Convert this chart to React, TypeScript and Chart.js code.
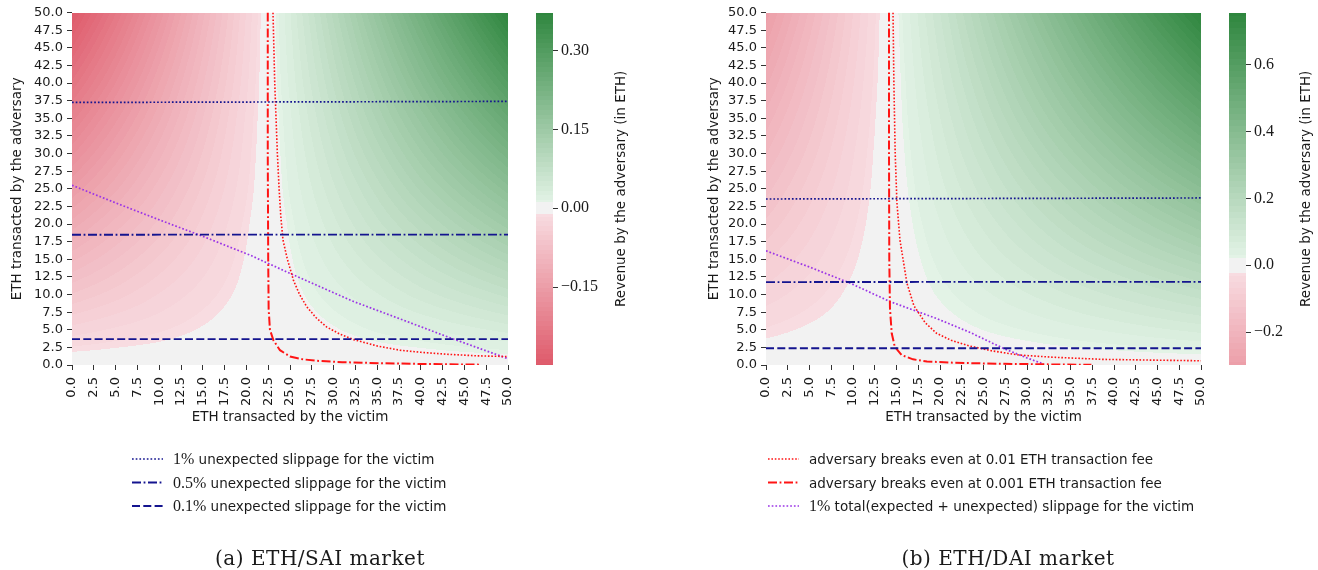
import React, { useEffect, useRef } from "react";
import { Chart, registerables } from "chart.js";

Chart.register(...registerables);

// ---------- data ----------
const AXIS_TICKS = [0, 2.5, 5, 7.5, 10, 12.5, 15, 17.5, 20, 22.5, 25, 27.5, 30, 32.5, 35, 37.5, 40, 42.5, 45, 47.5, 50];

// heatmap sample grid (victim ETH along columns, adversary ETH along rows)
const VICTIM_GRID = [0, 5, 10, 15, 20, 25, 30, 35, 40, 45, 50];
const ADVERSARY_GRID = [0, 5, 10, 15, 20, 25, 30, 35, 40, 45, 50];

// revenue by the adversary (ETH), ETH/SAI market, rows = adversary 0..50
const REVENUE_SAI = [
  [0, 0, 0, 0, 0, 0, 0, 0, 0, 0, 0],
  [-0.030, -0.023, -0.017, -0.010, -0.003, 0.003, 0.010, 0.017, 0.023, 0.030, 0.037],
  [-0.060, -0.047, -0.033, -0.020, -0.007, 0.007, 0.020, 0.033, 0.047, 0.060, 0.073],
  [-0.090, -0.070, -0.050, -0.030, -0.010, 0.010, 0.030, 0.050, 0.070, 0.090, 0.110],
  [-0.120, -0.093, -0.067, -0.040, -0.013, 0.013, 0.040, 0.067, 0.093, 0.120, 0.147],
  [-0.150, -0.117, -0.083, -0.050, -0.017, 0.017, 0.050, 0.083, 0.117, 0.150, 0.183],
  [-0.180, -0.140, -0.100, -0.060, -0.020, 0.020, 0.060, 0.100, 0.140, 0.180, 0.220],
  [-0.209, -0.163, -0.117, -0.070, -0.023, 0.023, 0.070, 0.117, 0.163, 0.210, 0.257],
  [-0.239, -0.187, -0.133, -0.080, -0.027, 0.027, 0.080, 0.133, 0.187, 0.240, 0.295],
  [-0.268, -0.210, -0.150, -0.090, -0.030, 0.030, 0.090, 0.150, 0.210, 0.271, 0.333],
  [-0.298, -0.233, -0.167, -0.100, -0.033, 0.033, 0.100, 0.167, 0.234, 0.302, 0.372],
];

// revenue by the adversary (ETH), ETH/DAI market
const REVENUE_DAI = [
  [0, 0, 0, 0, 0, 0, 0, 0, 0, 0, 0],
  [-0.030, -0.019, -0.009, 0.002, 0.012, 0.023, 0.033, 0.044, 0.054, 0.065, 0.075],
  [-0.060, -0.039, -0.017, 0.004, 0.025, 0.046, 0.067, 0.088, 0.109, 0.130, 0.151],
  [-0.089, -0.058, -0.026, 0.005, 0.037, 0.069, 0.100, 0.132, 0.163, 0.195, 0.226],
  [-0.119, -0.077, -0.035, 0.007, 0.049, 0.091, 0.133, 0.176, 0.218, 0.260, 0.302],
  [-0.149, -0.096, -0.044, 0.009, 0.062, 0.114, 0.167, 0.219, 0.272, 0.325, 0.377],
  [-0.179, -0.116, -0.052, 0.011, 0.074, 0.137, 0.200, 0.263, 0.326, 0.390, 0.453],
  [-0.208, -0.135, -0.061, 0.013, 0.086, 0.160, 0.234, 0.307, 0.381, 0.455, 0.528],
  [-0.238, -0.154, -0.070, 0.014, 0.099, 0.183, 0.267, 0.351, 0.435, 0.520, 0.604],
  [-0.268, -0.173, -0.079, 0.016, 0.111, 0.206, 0.300, 0.395, 0.490, 0.584, 0.679],
  [-0.298, -0.193, -0.087, 0.018, 0.123, 0.228, 0.334, 0.439, 0.544, 0.649, 0.755],
];

const SAI_CB_RANGE = [-0.298, 0.372];
const DAI_CB_RANGE = [-0.298, 0.755];
const SAI_CB_TICKS = [-0.15, 0, 0.15, 0.3];
const DAI_CB_TICKS = [-0.2, 0, 0.2, 0.4, 0.6];

// curves: [victim ETH, adversary ETH]
const SAI_SLIP_1PCT = [[0, 37.25], [50, 37.4]];
const SAI_SLIP_05PCT = [[0, 18.48], [50, 18.5]];
const SAI_SLIP_01PCT = [[0, 3.68], [50, 3.68]];
const SAI_FEE_001 = [
  [23.05, 50], [23.15, 45], [23.25, 40], [23.4, 35], [23.55, 30], [23.75, 25], [23.95, 21],
  [24.2, 17.7], [24.7, 15], [25.4, 12.0], [26.1, 10], [26.9, 8.3], [28.0, 6.7], [29.2, 5.4],
  [30.7, 4.4], [32.3, 3.6], [35, 2.7], [37.6, 2.1], [40, 1.8], [43.3, 1.5], [46.5, 1.3], [50, 1.2],
];
const SAI_FEE_0001 = [
  [22.45, 50], [22.45, 30], [22.5, 15], [22.55, 8], [22.7, 5], [23.1, 3.5], [23.85, 2.1],
  [25, 1.2], [26.5, 0.8], [28.1, 0.6], [31, 0.4], [35.7, 0.24], [40, 0.15], [46.8, 0.05],
];
const SAI_TOTAL_1PCT = [
  [0, 25.5], [5, 23.0], [10, 20.6], [14.7, 18.4], [20.4, 15.6], [25, 13.0], [32.3, 9.0],
  [37.5, 6.6], [43.7, 3.7], [50, 0.9],
];

const DAI_SLIP_1PCT = [[0, 23.55], [50, 23.7]];
const DAI_SLIP_05PCT = [[0, 11.77], [50, 11.8]];
const DAI_SLIP_01PCT = [[0, 2.38], [50, 2.38]];
const DAI_FEE_001 = [
  [14.6, 50], [14.7, 40], [14.85, 30], [15.05, 23], [15.4, 17.7], [16.2, 11.6], [17.0, 8.4],
  [18.3, 6], [19.6, 4.5], [21.3, 3.5], [23.4, 2.7], [26, 2], [29.2, 1.4], [33, 1.1],
  [38.7, 0.8], [44, 0.7], [50, 0.6],
];
const DAI_FEE_0001 = [
  [14.14, 50], [14.14, 30], [14.17, 15], [14.25, 8], [14.45, 4.5], [14.8, 2.6], [15.6, 1.4],
  [16.9, 0.8], [18.5, 0.5], [21.5, 0.33], [25, 0.22], [29.2, 0.14], [33, 0.08], [37.4, 0.03],
];
const DAI_TOTAL_1PCT = [
  [0, 16.2], [5, 13.9], [9.7, 11.6], [14.25, 9.0], [19.6, 6.6], [23.5, 4.6], [27.3, 2.35],
  [30, 1.0], [31.9, 0.15],
];

const LINE_LABELS = [
  "1% unexpected slippage for the victim",
  "0.5% unexpected slippage for the victim",
  "0.1% unexpected slippage for the victim",
  "adversary breaks even at 0.01 ETH transaction fee",
  "adversary breaks even at 0.001 ETH transaction fee",
  "1% total(expected + unexpected) slippage for the victim",
];

const X_TITLE = "ETH transacted by the victim";
const Y_TITLE = "ETH transacted by the adversary";
const CB_TITLE = "Revenue by the adversary (in ETH)";
const CAPTIONS = ["(a) ETH/SAI market", "(b) ETH/DAI market"];

// ---------- styles ----------
const SANS = "'DejaVu Sans', sans-serif";
const SERIF = "'Liberation Serif', 'DejaVu Serif', serif";
const TEXT = "#1a1a1a";
const TICK_COLOR = "#333333";
const DARK_BLUE = "#14148f";
const RED = "#ff1414";
const VIOLET = "#9b34e6";

const GRAY = [242, 242, 242];
const NEG_LIGHT = [248, 220, 225];
const NEG_FULL = [216, 56, 75];
const POS_LIGHT = [227, 243, 230];
const POS_FULL = [46, 134, 62];
const CENTER_BAND = 0.03;
const CMAP_LEVELS = 40;

function cmap(t: number): number[] {
  const at = Math.abs(t);
  if (at <= CENTER_BAND) return GRAY;
  let u = Math.min(1, (at - CENTER_BAND) / (1 - CENTER_BAND));
  u = Math.round(u * CMAP_LEVELS) / CMAP_LEVELS;
  const l = t < 0 ? NEG_LIGHT : POS_LIGHT;
  const f = t < 0 ? NEG_FULL : POS_FULL;
  return [l[0] + (f[0] - l[0]) * u, l[1] + (f[1] - l[1]) * u, l[2] + (f[2] - l[2]) * u];
}

function locate(arr: number[], v: number): [number, number] {
  if (v <= arr[0]) return [0, 0];
  const n = arr.length;
  if (v >= arr[n - 1]) return [n - 2, 1];
  for (let i = 0; i < n - 1; i++) {
    if (v >= arr[i] && v <= arr[i + 1]) return [i, (v - arr[i]) / (arr[i + 1] - arr[i])];
  }
  return [n - 2, 1];
}

function sampleGrid(grid: number[][], cols: number[], rows: number[], x: number, y: number) {
  const [i, fx] = locate(cols, x);
  const [j, fy] = locate(rows, y);
  const g00 = grid[j][i], g10 = grid[j][i + 1], g01 = grid[j + 1][i], g11 = grid[j + 1][i + 1];
  return (1 - fx) * (1 - fy) * g00 + fx * (1 - fy) * g10 + (1 - fx) * fy * g01 + fx * fy * g11;
}

const heatmapPlugin = {
  id: "heatmap",
  beforeDatasetsDraw(chart: any, _args: any, opts: any) {
    const { ctx, chartArea: ca } = chart;
    const xs = chart.scales.x, ys = chart.scales.y;
    const left = Math.round(ca.left), top = Math.round(ca.top);
    const w = Math.round(ca.right) - left, h = Math.round(ca.bottom) - top;
    const off = document.createElement("canvas");
    off.width = w;
    off.height = h;
    const octx = off.getContext("2d") as CanvasRenderingContext2D;
    const img = octx.createImageData(w, h);
    for (let py = 0; py < h; py++) {
      const a = ys.getValueForPixel(top + py + 0.5);
      for (let px = 0; px < w; px++) {
        const v = xs.getValueForPixel(left + px + 0.5);
        const val = sampleGrid(opts.grid, VICTIM_GRID, ADVERSARY_GRID, v, a);
        const c = cmap(val / opts.vrange);
        const k = (py * w + px) * 4;
        img.data[k] = c[0];
        img.data[k + 1] = c[1];
        img.data[k + 2] = c[2];
        img.data[k + 3] = 255;
      }
    }
    octx.putImageData(img, 0, 0);
    ctx.drawImage(off, left, top);
  },
};

const colorbarPlugin = {
  id: "colorbar",
  beforeDatasetsDraw(chart: any, _args: any, opts: any) {
    const cb = chart.scales.cb;
    const { ctx } = chart;
    const x0 = Math.round(cb.left) - opts.barWidth;
    for (let py = Math.round(cb.top); py < Math.round(cb.bottom); py++) {
      const val = cb.getValueForPixel(py + 0.5);
      const c = cmap(val / opts.vrange);
      ctx.fillStyle = `rgb(${Math.round(c[0])},${Math.round(c[1])},${Math.round(c[2])})`;
      ctx.fillRect(x0, py, opts.barWidth, 1);
    }
  },
  afterDraw(chart: any, _args: any, opts: any) {
    const cb = chart.scales.cb;
    const { ctx } = chart;
    ctx.save();
    ctx.translate(opts.titleX, (cb.top + cb.bottom) / 2);
    ctx.rotate(-Math.PI / 2);
    ctx.font = `13.5px ${SANS}`;
    ctx.fillStyle = TEXT;
    ctx.textAlign = "center";
    ctx.textBaseline = "middle";
    ctx.fillText(opts.title, 0, 0);
    ctx.restore();
  },
};

const lineLegendPlugin = {
  id: "lineLegend",
  afterDraw(chart: any, _args: any, opts: any) {
    const { ctx } = chart;
    opts.items.forEach((dsIndex: number, row: number) => {
      const ds = chart.data.datasets[dsIndex];
      const y = opts.top + row * opts.rowGap;
      ctx.save();
      ctx.strokeStyle = ds.borderColor;
      ctx.lineWidth = ds.borderWidth;
      ctx.setLineDash(ds.borderDash || []);
      ctx.beginPath();
      ctx.moveTo(opts.x, y);
      ctx.lineTo(opts.x + opts.sampleWidth, y);
      ctx.stroke();
      ctx.setLineDash([]);
      ctx.fillStyle = TEXT;
      ctx.textBaseline = "alphabetic";
      ctx.textAlign = "left";
      let tx = opts.x + opts.textOffset;
      const base = y + 5;
      const m = /^([\d.]+%)(.*)$/.exec(ds.label);
      if (m) {
        ctx.font = `16px ${SERIF}`;
        ctx.fillText(m[1], tx, base);
        tx += ctx.measureText(m[1]).width;
        ctx.font = `13.5px ${SANS}`;
        ctx.fillText(m[2], tx, base);
      } else {
        ctx.font = `13.5px ${SANS}`;
        ctx.fillText(ds.label, tx, base);
      }
      ctx.restore();
    });
  },
};

const DOT = [1.7, 2.0];
const DASHDOT = [9, 2.6, 1.8, 2.6];
const DASH = [8, 3.3];
const RED_DOT = [1.6, 1.8];

function makeDatasets(series: number[][][]) {
  const styles = [
    { color: DARK_BLUE, dash: DOT, width: 1.7 },
    { color: DARK_BLUE, dash: DASHDOT, width: 1.8 },
    { color: DARK_BLUE, dash: DASH, width: 1.8 },
    { color: RED, dash: RED_DOT, width: 1.6 },
    { color: RED, dash: DASHDOT, width: 2.0 },
    { color: VIOLET, dash: DOT, width: 1.7 },
  ];
  return series.map((pts, i) => ({
    label: LINE_LABELS[i],
    data: pts.map(([x, y]) => ({ x, y })),
    showLine: true,
    borderColor: styles[i].color,
    backgroundColor: styles[i].color,
    borderDash: styles[i].dash,
    borderWidth: styles[i].width,
    pointRadius: 0,
    pointHoverRadius: 0,
    fill: false,
    tension: 0,
  }));
}

function makeConfig(spec: any): any {
  const vrange = Math.max(Math.abs(spec.cbRange[0]), Math.abs(spec.cbRange[1]));
  const axisFont = { family: SANS, size: 13 };
  const titleFont = { family: SANS, size: 13.5 };
  return {
    type: "scatter",
    data: { datasets: makeDatasets(spec.series) },
    options: {
      responsive: false,
      animation: false,
      events: [],
      layout: { padding: { top: 12, bottom: 140, left: 0, right: 0 } },
      plugins: {
        legend: { display: false },
        tooltip: { enabled: false },
        heatmap: { grid: spec.grid, vrange },
        colorbar: { vrange, barWidth: 17, titleX: spec.cbTitleX, title: CB_TITLE },
        lineLegend: { items: spec.legendItems, x: spec.legendX, top: 459, rowGap: 23.5, sampleWidth: 31, textOffset: 41 },
      },
      scales: {
        x: {
          type: "linear",
          position: "bottom",
          min: 0,
          max: 50,
          afterBuildTicks: (s: any) => { s.ticks = AXIS_TICKS.map((v) => ({ value: v })); },
          afterFit: (s: any) => { s.height = 65; },
          ticks: {
            autoSkip: false,
            minRotation: 90,
            maxRotation: 90,
            padding: 7,
            color: TEXT,
            font: axisFont,
            callback: (v: any) => Number(v).toFixed(1),
          },
          grid: { display: true, drawOnChartArea: false, drawTicks: true, tickLength: 5, color: TICK_COLOR },
          border: { display: false },
          title: { display: true, text: X_TITLE, color: TEXT, font: titleFont, padding: { top: 0, bottom: 4 } },
        },
        y: {
          type: "linear",
          position: "left",
          min: 0,
          max: 50,
          afterBuildTicks: (s: any) => { s.ticks = AXIS_TICKS.map((v) => ({ value: v })); },
          afterFit: (s: any) => { s.width = spec.yAxisWidth; },
          ticks: {
            autoSkip: false,
            padding: 4,
            color: TEXT,
            font: axisFont,
            callback: (v: any) => Number(v).toFixed(1),
          },
          grid: { display: true, drawOnChartArea: false, drawTicks: true, tickLength: 5, color: TICK_COLOR },
          border: { display: false },
          title: { display: true, text: Y_TITLE, color: TEXT, font: titleFont, padding: { top: 9, bottom: 0 } },
        },
        gap: {
          type: "linear",
          position: "right",
          weight: 0,
          display: true,
          afterFit: (s: any) => { s.width = 45; },
          ticks: { display: false },
          grid: { display: false, drawTicks: false },
          border: { display: false },
        },
        cb: {
          type: "linear",
          position: "right",
          weight: 1,
          min: spec.cbRange[0],
          max: spec.cbRange[1],
          afterBuildTicks: (s: any) => { s.ticks = spec.cbTicks.map((v: number) => ({ value: v })); },
          afterFit: (s: any) => { s.width = spec.cbAxisWidth; },
          ticks: {
            padding: 3,
            color: TEXT,
            font: { family: SERIF, size: 16 },
            callback: (v: any) => {
              const n = Number(v);
              const s = Math.abs(n).toFixed(spec.cbDigits);
              return n < 0 ? "\u2212" + s : s;
            },
          },
          grid: { display: true, drawOnChartArea: false, drawTicks: true, tickLength: 5, color: TICK_COLOR },
          border: { display: false },
        },
      },
    },
    plugins: [heatmapPlugin, colorbarPlugin, lineLegendPlugin],
  };
}

const SAI_SPEC = {
  series: [SAI_SLIP_1PCT, SAI_SLIP_05PCT, SAI_SLIP_01PCT, SAI_FEE_001, SAI_FEE_0001, SAI_TOTAL_1PCT],
  grid: REVENUE_SAI,
  cbRange: SAI_CB_RANGE,
  cbTicks: SAI_CB_TICKS,
  cbDigits: 2,
  yAxisWidth: 72,
  cbAxisWidth: 107,
  cbTitleX: 621,
  legendX: 132,
  legendItems: [0, 1, 2],
};

const DAI_SPEC = {
  series: [DAI_SLIP_1PCT, DAI_SLIP_05PCT, DAI_SLIP_01PCT, DAI_FEE_001, DAI_FEE_0001, DAI_TOTAL_1PCT],
  grid: REVENUE_DAI,
  cbRange: DAI_CB_RANGE,
  cbTicks: DAI_CB_TICKS,
  cbDigits: 1,
  yAxisWidth: 69,
  cbAxisWidth: 72,
  cbTitleX: 609,
  legendX: 71,
  legendItems: [3, 4, 5],
};

export default function App() {
  const leftRef = useRef<HTMLCanvasElement>(null);
  const rightRef = useRef<HTMLCanvasElement>(null);

  useEffect(() => {
    const c1 = new Chart(leftRef.current as HTMLCanvasElement, makeConfig(SAI_SPEC));
    const c2 = new Chart(rightRef.current as HTMLCanvasElement, makeConfig(DAI_SPEC));
    return () => {
      c1.destroy();
      c2.destroy();
    };
  }, []);

  const captionStyle: React.CSSProperties = {
    position: "absolute",
    top: 548,
    width: 400,
    textAlign: "center",
    fontFamily: "'DejaVu Serif', serif",
    fontSize: 20,
    lineHeight: "20px",
    letterSpacing: 0.5,
    color: TEXT,
    whiteSpace: "nowrap",
  };

  return (
    <div style={{ position: "fixed", left: 0, top: 0, width: 1318, height: 570, background: "#fff", overflow: "hidden" }}>
      <canvas ref={leftRef} width={660} height={570} style={{ position: "absolute", left: 0, top: 0, width: 660, height: 570 }} />
      <canvas ref={rightRef} width={621} height={570} style={{ position: "absolute", left: 697, top: 0, width: 621, height: 570 }} />
      <div style={{ ...captionStyle, left: 120 }}>{CAPTIONS[0]}</div>
      <div style={{ ...captionStyle, left: 808 }}>{CAPTIONS[1]}</div>
    </div>
  );
}
